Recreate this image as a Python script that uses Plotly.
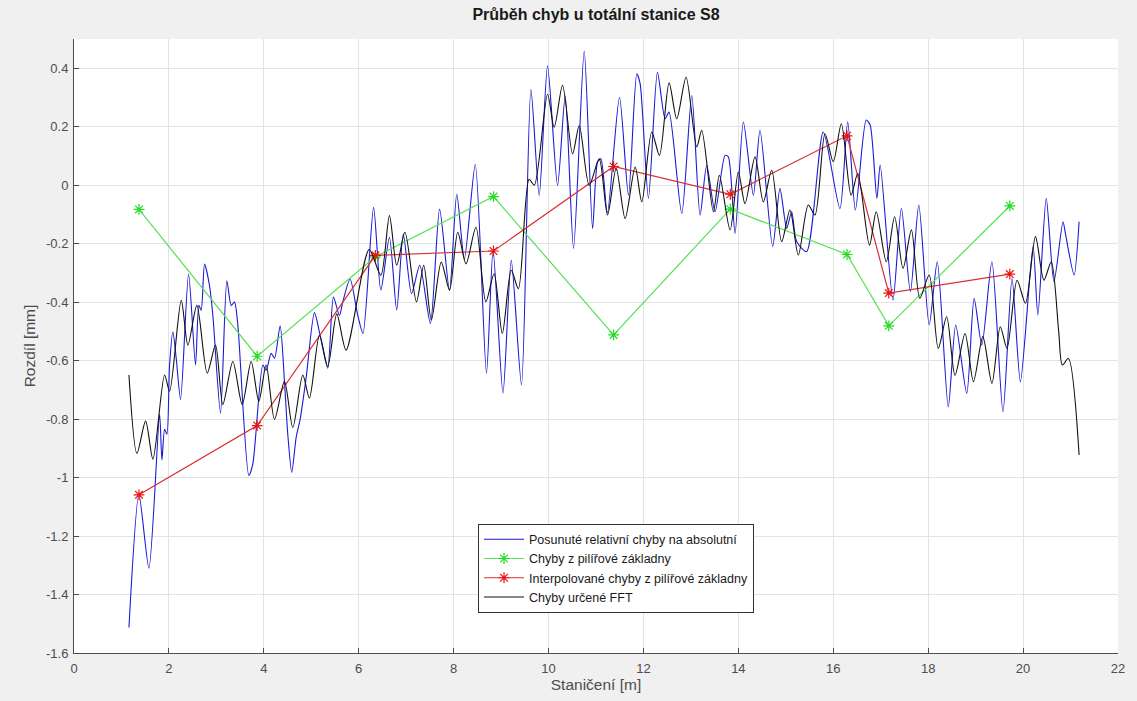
import plotly.graph_objects as go

# Shifted relative errors (blue)
blue_x = [1.158, 1.368, 1.579, 1.804, 1.853, 1.909, 1.958, 2.014, 2.084, 2.154, 2.246, 2.414,
          2.561, 2.632, 2.681, 2.751, 2.856, 2.926, 3.088, 3.221, 3.312, 3.382, 3.453, 3.684,
          3.768, 3.979, 4.049, 4.154, 4.225, 4.344, 4.435, 4.505, 4.589, 4.681, 4.765, 4.891,
          5.067, 5.186, 5.347, 5.467, 5.593, 5.663, 5.818, 5.979, 6.090, 6.313, 6.466, 6.647,
          6.800, 6.939, 7.113, 7.287, 7.510, 7.704, 7.913, 8.066, 8.226, 8.456, 8.692, 8.831,
          9.040, 9.214, 9.430, 9.628, 9.803, 9.979, 10.190, 10.351, 10.527, 10.752, 10.928,
          11.033, 11.103, 11.240, 11.495, 11.684, 11.860, 11.930, 12.105, 12.295, 12.456,
          12.540, 12.807, 13.018, 13.193, 13.333, 13.509, 13.719, 13.789, 13.930, 14.105,
          14.316, 14.456, 14.723, 14.877, 15.018, 15.123, 15.228, 15.439, 15.789, 16.140,
          16.304, 16.466, 16.693, 16.777, 16.919, 16.989, 17.258, 17.435, 17.625, 17.802,
          18.021, 18.191, 18.424, 18.580, 18.813, 18.968, 19.131, 19.343, 19.576, 19.767,
          19.943, 20.210, 20.311, 20.488, 20.650, 20.841, 20.898, 21.074, 21.180]
blue_y = [-1.513, -1.059, -1.310, -0.784, -0.940, -0.835, -0.852, -0.615, -0.502, -0.592, -0.733, -0.304,
          -0.615, -0.411, -0.428, -0.270, -0.344, -0.445, -0.779, -0.327, -0.411, -0.400, -0.479, -0.993,
          -0.954, -0.615, -0.633, -0.575, -0.592, -0.481, -0.671, -0.852, -0.982, -0.863, -0.801, -0.660,
          -0.436, -0.513, -0.626, -0.383, -0.445, -0.400, -0.321, -0.445, -0.507, -0.076, -0.359, -0.178,
          -0.427, -0.167, -0.371, -0.274, -0.473, -0.082, -0.359, -0.031, -0.252, 0.071, -0.643, -0.223,
          -0.711, -0.257, -0.683, 0.328, -0.035, 0.408, -0.001, 0.306, -0.216, 0.459, -0.148,
          0.079, 0.090, -0.095, 0.301, -0.034, 0.381, 0.347, -0.045, 0.386, 0.227,
          0.250, -0.097, 0.307, -0.102, 0.068, -0.091, 0.102, 0.097, -0.165, 0.216,
          -0.034, 0.188, -0.210, -0.011, -0.148, -0.091, -0.193, -0.227, 0.182, -0.080,
          0.217, -0.085, 0.223, 0.206, -0.045, 0.069, -0.393, -0.079, -0.364, -0.068,
          -0.478, -0.262, -0.758, -0.478, -0.712, -0.387, -0.547, -0.262, -0.775, -0.319,
          -0.672, -0.210, -0.444, -0.045, -0.330, -0.125, -0.171, -0.307, -0.125]

# Pillar baseline errors (green) and interpolated errors (red)
pillar_x = [1.37, 3.86, 6.35, 8.84, 11.37, 13.83, 16.29, 17.17, 19.72]
green_y = [-0.083, -0.585, -0.245, -0.039, -0.512, -0.082, -0.237, -0.481, -0.071]
red_y = [-1.059, -0.822, -0.240, -0.225, 0.064, -0.031, 0.169, -0.369, -0.304]

# FFT-determined errors (black)
black_x = [1.158, 1.326, 1.509, 1.663, 1.909, 2.014, 2.260, 2.400, 2.589, 2.807, 2.982, 3.137,
           3.347, 3.544, 3.733, 3.895, 4.049, 4.225, 4.435, 4.611, 4.821, 4.961, 5.172, 5.347,
           5.537, 5.733, 6.220, 6.466, 6.647, 6.800, 6.974, 7.217, 7.370, 7.530, 7.739, 7.913,
           8.087, 8.261, 8.470, 8.678, 8.852, 9.026, 9.214, 9.365, 9.590, 9.700, 9.979, 10.119,
           10.295, 10.506, 10.647, 10.857, 11.068, 11.242, 11.425, 11.614, 11.825, 11.965,
           12.175, 12.337, 12.540, 12.702, 12.898, 13.123, 13.228, 13.474, 13.600, 13.825,
           14.000, 14.140, 14.351, 14.526, 14.702, 14.912, 15.088, 15.263, 15.474, 15.614,
           15.825, 16.000, 16.170, 16.375, 16.516, 16.763, 16.905, 17.117, 17.293, 17.470,
           17.647, 17.823, 18.021, 18.212, 18.389, 18.565, 18.777, 18.954, 19.152, 19.343,
           19.519, 19.661, 19.873, 20.049, 20.261, 20.438, 20.594, 20.750, 20.827, 20.954, 21.180]
black_y = [-0.649, -0.917, -0.807, -0.937, -0.649, -0.705, -0.394, -0.547, -0.411, -0.643, -0.547, -0.750,
           -0.603, -0.750, -0.603, -0.739, -0.615, -0.801, -0.671, -0.829, -0.649, -0.728, -0.513, -0.620,
           -0.440, -0.564, -0.220, -0.308, -0.104, -0.274, -0.161, -0.399, -0.274, -0.461, -0.263, -0.359,
           -0.161, -0.269, -0.144, -0.399, -0.303, -0.507, -0.291, -0.354, 0.020, 0.000, 0.311, 0.198,
           0.342, 0.107, 0.204, -0.001, 0.090, -0.102, 0.057, -0.114, 0.062, -0.057,
           0.182, 0.102, 0.350, 0.227, 0.369, 0.131, 0.188, -0.091, 0.034, -0.153,
           0.045, -0.063, 0.097, -0.057, 0.051, -0.193, -0.085, -0.239, -0.068, -0.102,
           0.176, 0.080, 0.210, -0.034, 0.040, -0.205, -0.091, -0.262, -0.108, -0.285,
           -0.153, -0.387, -0.307, -0.558, -0.450, -0.650, -0.507, -0.672, -0.518, -0.678,
           -0.484, -0.558, -0.325, -0.404, -0.176, -0.325, -0.262, -0.500, -0.615, -0.593, -0.923]

x_ticks = [0, 2, 4, 6, 8, 10, 12, 14, 16, 18, 20, 22]
x_labels = ["0", "2", "4", "6", "8", "10", "12", "14", "16", "18", "20", "22"]
y_ticks = [0.4, 0.2, 0, -0.2, -0.4, -0.6, -0.8, -1.0, -1.2, -1.4, -1.6]
y_labels = ["0.4", "0.2", "0", "-0.2", "-0.4", "-0.6", "-0.8", "-1", "-1.2", "-1.4", "-1.6"]

FONT = "Liberation Sans, Arial, Helvetica, sans-serif"

fig = go.Figure()
fig.add_trace(go.Scatter(
    x=blue_x, y=blue_y, mode="lines",
    line=dict(color="#1a1ad6", width=1.1, shape="spline", smoothing=0.7),
    name="Posunuté relativní chyby na absolutní"))
fig.add_trace(go.Scatter(
    x=pillar_x, y=green_y, mode="lines+markers",
    line=dict(color="#55e055", width=1.2),
    marker=dict(symbol="asterisk", size=9, color="#22dd22",
                line=dict(color="#22dd22", width=1.2)),
    name="Chyby z pilířové základny"))
fig.add_trace(go.Scatter(
    x=pillar_x, y=red_y, mode="lines+markers",
    line=dict(color="#d83030", width=1.2),
    marker=dict(symbol="asterisk", size=9, color="#ee1111",
                line=dict(color="#ee1111", width=1.2)),
    name="Interpolované chyby z pilířové základny"))
fig.add_trace(go.Scatter(
    x=black_x, y=black_y, mode="lines",
    line=dict(color="#111111", width=1.1, shape="spline", smoothing=0.8),
    name="Chyby určené FFT"))

axis_common = dict(
    showgrid=True, gridcolor="#e3e3e3", gridwidth=1,
    showline=True, linecolor="#4d4d4d", linewidth=1,
    ticks="inside", ticklen=5, tickcolor="#4d4d4d",
    tickfont=dict(family=FONT, size=13, color="#4d4d4d"),
    zeroline=False, mirror=False,
)

fig.update_layout(
    width=1137, height=701,
    paper_bgcolor="#f0f0f0", plot_bgcolor="white",
    margin=dict(l=74, r=19, t=39, b=45),
    title=dict(text="<b>Průběh chyb u totální stanice S8</b>",
               font=dict(family=FONT, size=16, color="#1a1a1a"),
               x=(74 + 1118) / 2 / 1137, xanchor="center", y=1 - 14 / 701, yanchor="middle"),
    xaxis=dict(range=[0, 22], tickvals=x_ticks, ticktext=x_labels, ticklabelstandoff=3,
               title=dict(text="Staničení [m]", font=dict(family=FONT, size=15.5, color="#4d4d4d"),
                          standoff=3),
               **axis_common),
    yaxis=dict(range=[-1.6, 0.5], tickvals=y_ticks, ticktext=y_labels, ticklabelstandoff=2,
               title=dict(text="Rozdíl [mm]", font=dict(family=FONT, size=15.5, color="#4d4d4d"),
                          standoff=6),
               **axis_common),
    legend=dict(x=0.387, y=0.2107, xanchor="left", yanchor="top",
                bgcolor="white", bordercolor="#333333", borderwidth=1,
                font=dict(family=FONT, size=12.5, color="#1a1a1a"),
                tracegroupgap=0, itemwidth=40),
    showlegend=True,
)

fig.write_html("out.html")
